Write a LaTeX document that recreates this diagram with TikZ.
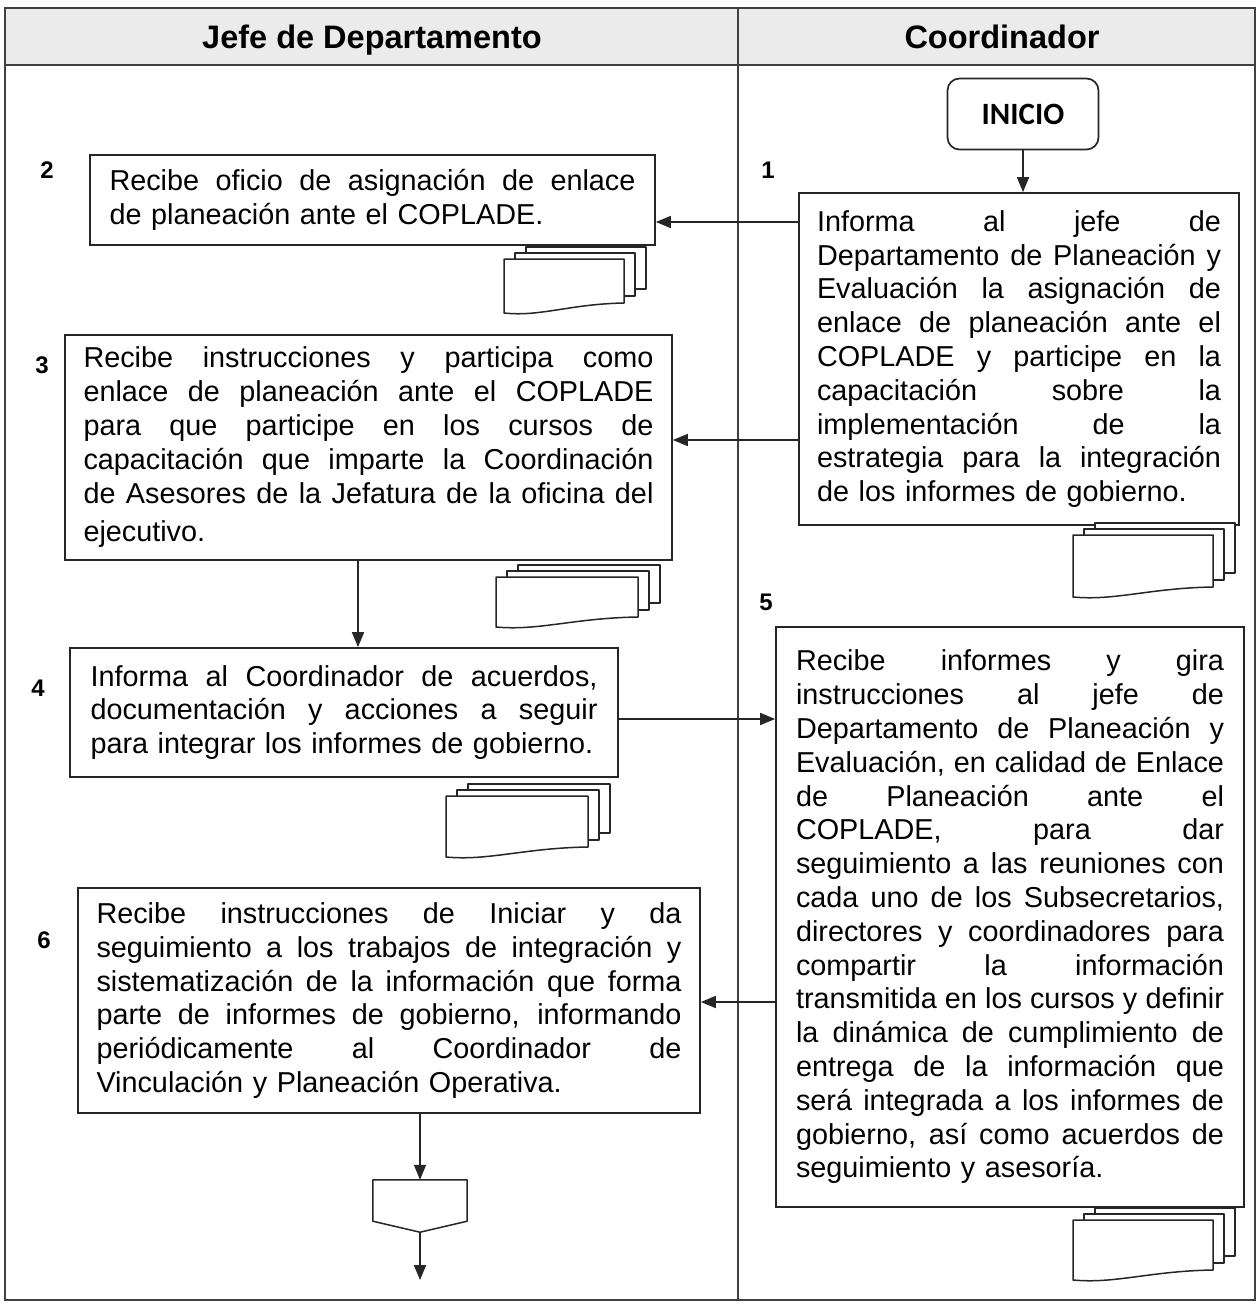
\documentclass[tikz,border=0pt]{standalone}
\usepackage{fontspec}
\setmainfont{Liberation Sans}
\newfontfamily\calibri{Carlito}
\usetikzlibrary{arrows.meta}
\newlength\jw
\newcommand\jbox[1]{{\spaceskip=0pt\xspaceskip=0pt\makebox[\jw][s]{#1}}}
\newcommand\jl[1]{\jbox{#1}\\}
\newcommand\docsym[4]{%
  \filldraw[docsheet] (#1+22,#2-12) rectangle (#1+#3+22,#2+#4-14);
  \filldraw[docsheet] (#1+11,#2-6) rectangle (#1+#3+11,#2+#4-7);
  \filldraw[docsheet] (#1,#2) -- (#1+#3,#2) -- (#1+#3,#2+#4)
     .. controls (#1+0.55*#3,#2+#4+1) and (#1+0.3*#3,#2+#4+14) .. (#1,#2+#4+10) -- cycle;}
\tikzset{
  frameline/.style={draw=black!75, line width=1.4pt},
  procbox/.style={draw=black!85, line width=1.7pt, fill=white, inner xsep=0pt, inner ysep=0pt,
    align=left, font=\fontsize{28.8}{33.8}\selectfont},
  startbox/.style={draw=black!85, line width=1.7pt, fill=white, rounded corners=12pt,
    minimum width=151pt, minimum height=71pt, font=\calibri\bfseries\fontsize{31}{34}\selectfont},
  arr/.style={line width=1.7pt, draw=black!85, -{Triangle[length=15pt,width=12pt]}},
  stepnum/.style={font=\bfseries\fontsize{24}{28}\selectfont},
  headtext/.style={font=\bfseries\fontsize{32.5}{36}\selectfont, anchor=base},
  docsheet/.style={draw=black!85, line width=1.5pt, fill=white, line join=round},
}
\begin{document}
\begin{tikzpicture}[x=1pt,y=-1pt]
\useasboundingbox (0,0) rectangle (1259,1308);
% frame and header
\fill[black!8] (5,8) rectangle (1255,65);
\draw[frameline] (5,8) rectangle (1255,1300);
\draw[frameline] (5,65) -- (1255,65);
\draw[frameline] (738,8) -- (738,1300);
\node[headtext] (h1) at (372,49) {Jefe de Departamento};
\node[headtext] (h2) at (1002,49) {Coordinador};
% step numbers
\node[stepnum] (n1) at (768,170) {1};
\node[stepnum] (n2) at (47,170) {2};
\node[stepnum] (n3) at (42,365) {3};
\node[stepnum] (n4) at (38,688) {4};
\node[stepnum] (n5) at (766,602) {5};
\node[stepnum] (n6) at (44,940) {6};
% start
\node[startbox] (ini) at (1023,114) {INICIO};
% boxes
\node[procbox, minimum width=440pt, minimum height=332pt, text width=404pt] (b1) at (1019,359) {%
\setlength{\jw}{404pt}%
\jl{Informa al jefe de}
\jl{Departamento de Planeación y}
\jl{Evaluación la asignación de}
\jl{enlace de planeación ante el}
\jl{COPLADE y participe en la}
\jl{capacitación sobre la}
\jl{implementación de la}
\jl{estrategia para la integración}
de los informes de gobierno.};
\node[procbox, minimum width=565pt, minimum height=90pt, text width=526pt] (b2) at (372.5,200) {%
\setlength{\jw}{526pt}%
\jl{Recibe oficio de asignación de enlace}
de planeación ante el COPLADE.};
\node[procbox, minimum width=607pt, minimum height=225pt, text width=570pt] (b3) at (368.5,447.5) {%
\setlength{\jw}{570pt}%
\jl{Recibe instrucciones y participa como}
\jl{enlace de planeación ante el COPLADE}
\jl{para que participe en los cursos de}
\jl{capacitación que imparte la Coordinación}
\jbox{de Asesores de la Jefatura de la oficina del}\\[5pt]
ejecutivo.};
\node[procbox, minimum width=548pt, minimum height=129pt, text width=507pt] (b4) at (344,712.5) {%
\setlength{\jw}{507pt}%
\jl{Informa al Coordinador de acuerdos,}
\jl{documentación y acciones a seguir}
para integrar los informes de gobierno.};
\node[procbox, minimum width=468pt, minimum height=580pt, text width=428pt] (b5) at (1010,917) {%
\setlength{\jw}{428pt}%
\jl{Recibe informes y gira}
\jl{instrucciones al jefe de}
\jl{Departamento de Planeación y}
\jl{Evaluación, en calidad de Enlace}
\jl{de Planeación ante el}
\jl{COPLADE, para dar}
\jl{seguimiento a las reuniones con}
\jl{cada uno de los Subsecretarios,}
\jl{directores y coordinadores para}
\jl{compartir la información}
\jl{transmitida en los cursos y definir}
\jl{la dinámica de cumplimiento de}
\jl{entrega de la información que}
\jl{será integrada a los informes de}
\jl{gobierno, así como acuerdos de}
seguimiento y asesoría.};
\node[procbox, minimum width=622pt, minimum height=225pt, text width=585pt] (b6) at (389,1000.5) {%
\setlength{\jw}{585pt}%
\jl{Recibe instrucciones de Iniciar y da}
\jl{seguimiento a los trabajos de integración y}
\jl{sistematización de la información que forma}
\jl{parte de informes de gobierno, informando}
\jl{periódicamente al Coordinador de}
Vinculación y Planeación Operativa.};
% documents
\docsym{504}{259}{120}{44}
\docsym{1073}{535}{140}{52}
\docsym{496}{577}{142}{40}
\docsym{446}{796}{142}{51}
\docsym{1073}{1220}{140}{50}
% off-page connector
\node[minimum width=94pt, minimum height=52pt, inner sep=0pt] (off) at (420,1206) {};
\draw[docsheet] (off.north west) -- (off.north east) -- ([yshift=11pt]off.south east)
  -- (off.south) -- ([yshift=11pt]off.south west) -- cycle;
\coordinate (endpt) at (420,1280);
% helper coordinates
\coordinate (y222) at (0,222);
\coordinate (y440) at (0,440);
\coordinate (y719) at (0,719);
\coordinate (y1002) at (0,1002);
\coordinate (x358) at (358,0);
% connectors
\draw[arr] (ini.south) -- (b1.north -| ini.south);
\draw[arr] (b1.west |- y222) -- (b2.east |- y222);
\draw[arr] (b1.west |- y440) -- (b3.east |- y440);
\draw[arr] (b3.south -| x358) -- (b4.north -| x358);
\draw[arr] (b4.east |- y719) -- (b5.west |- y719);
\draw[arr] (b5.west |- y1002) -- (b6.east |- y1002);
\draw[arr] (b6.south -| off.north) -- (off.north);
\draw[arr] (off.south) -- (endpt);
\end{tikzpicture}
\end{document}
